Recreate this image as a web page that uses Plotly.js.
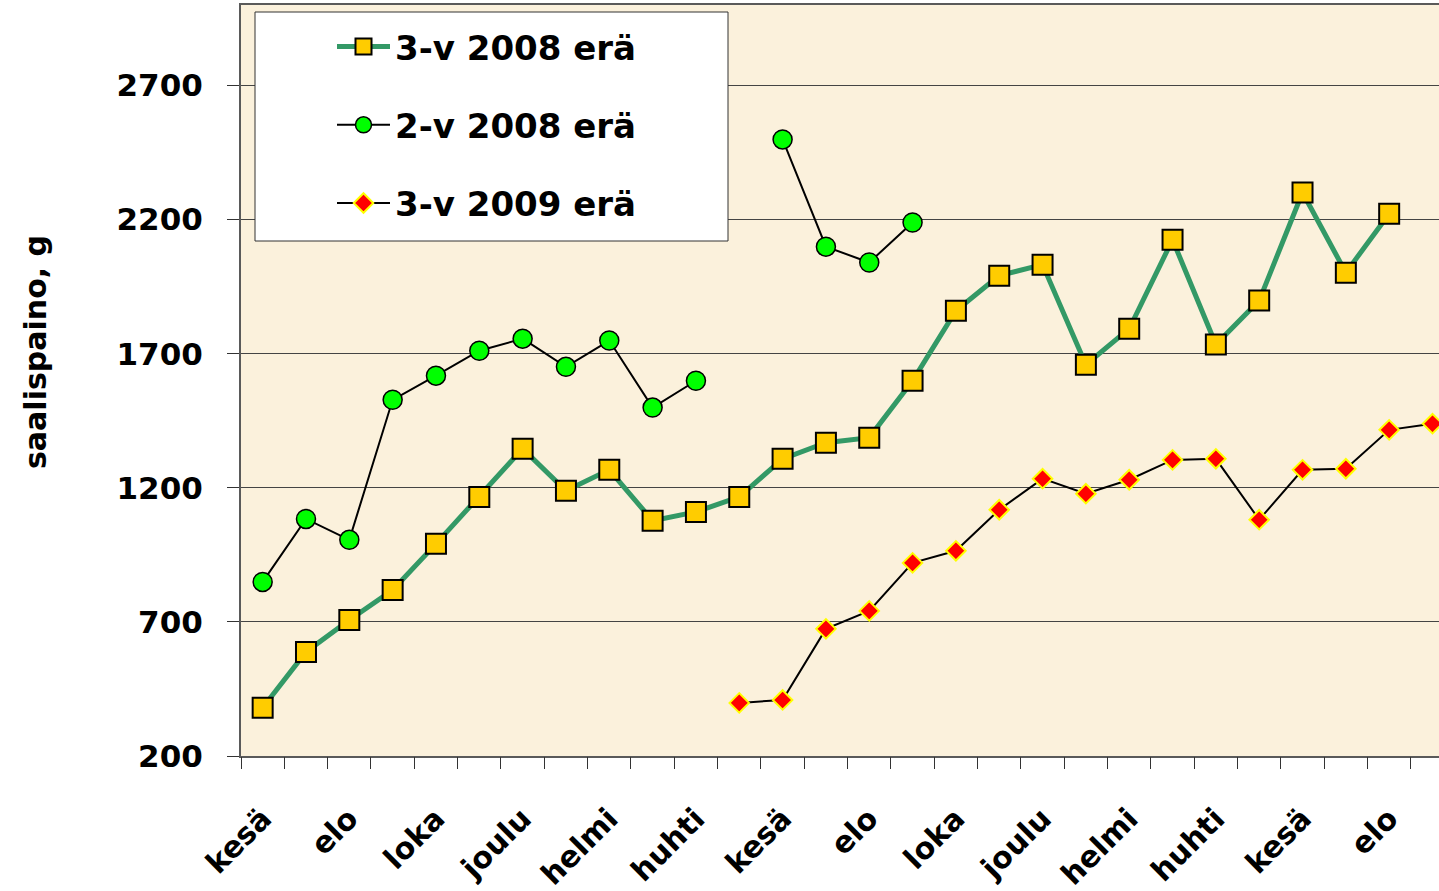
<!DOCTYPE html>
<html><head><meta charset="utf-8">
<script src="https://cdn.plot.ly/plotly-3.0.1.min.js"></script>
<style>html,body{margin:0;padding:0;background:#fff}#chart{width:1439px;height:891px}</style>
</head><body><div id="chart"></div>
<script>
// Months (one category per month, June 2008 ... September 2010)
const months = ["kesä","heinä","elo","syys","loka","marras","joulu","tammi","helmi","maalis","huhti","touko",
                "kesä","heinä","elo","syys","loka","marras","joulu","tammi","helmi","maalis","huhti","touko",
                "kesä","heinä","elo","syys"];
// Series values (saalispaino, g)
const s3v2008 = [380,588,707,819,991,1166,1346,1189,1267,1077,1110,1166,
                 1308,1368,1387,1599,1860,1991,2032,1659,1793,2125,1734,1898,
                 2301,2002,2222,null];
const s2v2008 = [849,1084,1006,1528,1618,1711,1756,1651,1749,1499,1599,null,
                 2499,2099,2040,2189,null,null,null,null,null,null,null,null,
                 null,null,null,null];
const s3v2009 = [null,null,null,null,null,null,null,null,null,null,null,398,
                 409,674,741,920,965,1118,1234,1178,1230,1304,1308,1081,
                 1267,1271,1416,1439];
const yTicks = [200,700,1200,1700,2200,2700];

const xIdx = months.map((m,i)=>i);
const labelIdx = xIdx.filter(i => i % 2 === 0);
const labelText = labelIdx.map(i => months[i]);
const boundaries = xIdx.map(i => i - 0.5);

const FONT = "Comic Sans MS, DejaVu Sans, sans-serif";

const traces = [
  {x:xIdx, y:s3v2008, name:"<b>3-v 2008 erä</b>", type:"scatter", mode:"lines+markers",
   legendgroup:"a", connectgaps:false, cliponaxis:false,
   line:{color:"#339966", width:5},
   marker:{symbol:"square", size:20, color:"#FFCC00", line:{color:"#000", width:2}}},
  {x:xIdx, y:s2v2008, name:"<b>2-v 2008 erä</b>", type:"scatter", mode:"lines+markers",
   legendgroup:"b", connectgaps:false, cliponaxis:false,
   line:{color:"#000", width:2},
   marker:{symbol:"circle", size:19, color:"#00FF00", line:{color:"#000", width:1.5}}},
  {x:xIdx, y:s3v2009, name:"<b>3-v 2009 erä</b>", type:"scatter", mode:"lines+markers",
   legendgroup:"c", connectgaps:false, cliponaxis:false,
   line:{color:"#000", width:2},
   marker:{symbol:"diamond", size:15, color:"#FF0000", line:{color:"#FFFF00", width:2}}},
  {x:[null], y:[null], xaxis:"x2", showlegend:false, hoverinfo:"skip", type:"scatter", mode:"markers"}
];

const layout = {
  width:1439, height:891,
  margin:{l:241, r:0, t:5, b:135},
  paper_bgcolor:"#ffffff",
  plot_bgcolor:"#FBF1DC",
  font:{family:FONT, color:"#000"},
  showlegend:true,
  legend:{x:(332-241)/1198, y:(756-18)/751, xanchor:"left", yanchor:"top",
          bgcolor:"rgba(0,0,0,0)", borderwidth:0, traceorder:"grouped",
          itemwidth:53,
          tracegroupgap:31, font:{family:FONT, size:34, color:"#000"}},
  xaxis:{range:[-0.5,27.15], tickmode:"array", tickvals:labelIdx, ticktext:labelText.map(t=>"<b>"+t+"</b>"),
         tickangle:-45, ticks:"", showgrid:false, zeroline:false,
         showline:true, linecolor:"#5a5a5a", linewidth:2, mirror:true,
         ticklabelstandoff:31,
         tickfont:{family:FONT, size:30, color:"#000"}},
  xaxis2:{overlaying:"x", anchor:"y", side:"bottom", range:[-0.5,27.15],
          tickmode:"array", tickvals:boundaries, showticklabels:false,
          ticks:"outside", ticklen:12, tickwidth:1, tickcolor:"#333",
          showgrid:false, zeroline:false, showline:false},
  yaxis:{range:[200,3000], tickmode:"array", tickvals:yTicks, ticktext:yTicks.map(v=>"<b>"+v+"</b>"),
         ticks:"outside", ticklen:12, tickwidth:1, tickcolor:"#333",
         showgrid:true, gridcolor:"#444", gridwidth:1, zeroline:false,
         showline:true, linecolor:"#5a5a5a", linewidth:2,
         ticklabelstandoff:18,
         tickfont:{family:FONT, size:31, color:"#000"}},
  shapes:[{type:"rect", xref:"paper", yref:"paper", layer:"above",
           x0:(255-241)/1198, x1:(728-241)/1198, y0:(756-241)/751, y1:(756-12)/751,
           fillcolor:"#ffffff", line:{color:"#333", width:1}}],
  annotations:[{text:"<b>saalispaino, g</b>", xref:"paper", yref:"paper",
                x:(35-241)/1198, y:(756-352)/751, textangle:-90, showarrow:false,
                xanchor:"center", yanchor:"middle",
                font:{family:FONT, size:30, color:"#000"}}]
};

Plotly.newPlot("chart", traces, layout, {displayModeBar:false, staticPlot:true});
</script>
</body></html>
